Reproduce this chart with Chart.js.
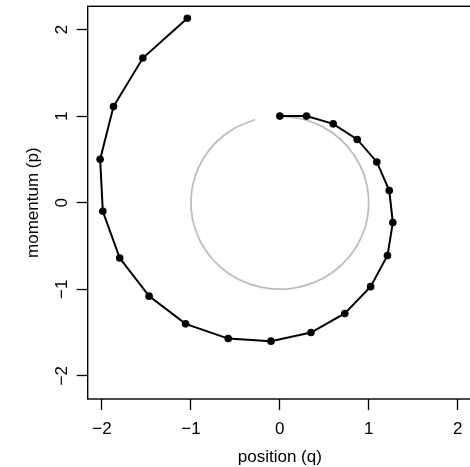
<!DOCTYPE html>
<html>
<head>
<meta charset="utf-8">
<script src="https://cdn.jsdelivr.net/npm/chart.js@4"></script>
<style>
  html, body { margin: 0; padding: 0; background: #fff; overflow: hidden; }
  #wrap { position: absolute; left: 0; top: 0; width: 476px; height: 467px; }
</style>
</head>
<body>
<div id="wrap"><canvas id="phase"></canvas></div>
<script>
// ===== Data =====
// Euler steps (black path with dots)
const posQ = [0, 0.30, 0.60, 0.87, 1.09, 1.23, 1.27, 1.21, 1.02, 0.73, 0.35,
  -0.10, -0.58, -1.06, -1.47, -1.80, -1.99, -2.02, -1.87, -1.54, -1.04];
const momP = [1.00, 1.00, 0.91, 0.73, 0.47, 0.14, -0.23, -0.61, -0.97, -1.28, -1.50,
  -1.60, -1.57, -1.40, -1.08, -0.64, -0.10, 0.50, 1.11, 1.67, 2.13];

// exact orbit (grey arc)
const circleQ = [0, 0.247, 0.479, 0.682, 0.841, 0.949, 0.997, 0.984, 0.909, 0.778, 0.598, 0.382, 0.141,
  -0.108, -0.351, -0.572, -0.757, -0.895, -0.978, -0.999, -0.959, -0.859, -0.706, -0.510, -0.279];
const circleP = [1.000, 0.969, 0.878, 0.732, 0.540, 0.315, 0.071, -0.178, -0.416, -0.628, -0.801, -0.924, -0.990,
  -0.994, -0.936, -0.821, -0.654, -0.446, -0.211, 0.038, 0.284, 0.512, 0.709, 0.860, 0.960];

const xTicks = [-2, -1, 0, 1, 2];
const yTicks = [-2, -1, 0, 1, 2];

const FONT = '"Liberation Sans", Arial, Helvetica, sans-serif';

const toPts = (xs, ys) => xs.map((x, i) => ({ x: x, y: ys[i] }));
const fmt = v => (v < 0 ? '\u2212' + Math.abs(v) : String(v));

// box around the plot region (R style)
const boxPlugin = {
  id: 'box',
  afterDraw(chart) {
    const { ctx, chartArea: a } = chart;
    ctx.save();
    ctx.strokeStyle = '#000';
    ctx.lineWidth = 1.4;
    ctx.strokeRect(a.left, a.top, a.right - a.left, a.bottom - a.top);
    ctx.restore();
  }
};

new Chart(document.getElementById('phase'), {
  type: 'scatter',
  data: {
    datasets: [
      {
        data: toPts(posQ, momP),
        showLine: true,
        borderColor: '#000',
        borderWidth: 2,
        backgroundColor: '#000',
        pointRadius: 3.8,
        pointBorderWidth: 0,
        tension: 0
      },
      {
        data: toPts(circleQ, circleP),
        showLine: true,
        borderColor: '#bdbdbd',
        borderWidth: 1.8,
        pointRadius: 0,
        tension: 0.33
      }
    ]
  },
  options: {
    responsive: true,
    maintainAspectRatio: false,
    animation: false,
    events: [],
    layout: { padding: { top: 6.3, right: 1.7, left: 0, bottom: 0 } },
    plugins: { legend: { display: false }, tooltip: { enabled: false } },
    scales: {
      x: {
        type: 'linear',
        min: -2.16,
        max: 2.16,
        afterBuildTicks: s => { s.ticks = xTicks.map(v => ({ value: v })); },
        afterFit: s => { s.height = 68; s.paddingLeft = 0; s.paddingRight = 0; },
        grid: { drawOnChartArea: false, tickLength: 11, tickColor: '#000', tickWidth: 1.3 },
        border: { display: false },
        ticks: {
          color: '#000',
          font: { family: FONT, size: 17 },
          padding: 9,
          maxRotation: 0,
          callback: v => fmt(v)
        },
        title: {
          display: true,
          text: 'position (q)',
          color: '#000',
          font: { family: FONT, size: 17 },
          padding: { top: 0, bottom: -0.5 }
        }
      },
      y: {
        type: 'linear',
        min: -2.268,
        max: 2.268,
        afterBuildTicks: s => { s.ticks = yTicks.map(v => ({ value: v })); },
        afterFit: s => { s.width = 87.7; s.paddingTop = 0; s.paddingBottom = 0; },
        grid: { drawOnChartArea: false, tickLength: 11, tickColor: '#000', tickWidth: 1.3 },
        border: { display: false },
        ticks: {
          color: '#000',
          font: { family: FONT, size: 17 },
          padding: 5,
          minRotation: 90,
          maxRotation: 90,
          crossAlign: 'center',
          callback: v => fmt(v)
        },
        title: {
          display: true,
          text: 'momentum (p)',
          color: '#000',
          font: { family: FONT, size: 17 },
          padding: { top: 23, bottom: 0 }
        }
      }
    }
  },
  plugins: [boxPlugin]
});
</script>
</body>
</html>
